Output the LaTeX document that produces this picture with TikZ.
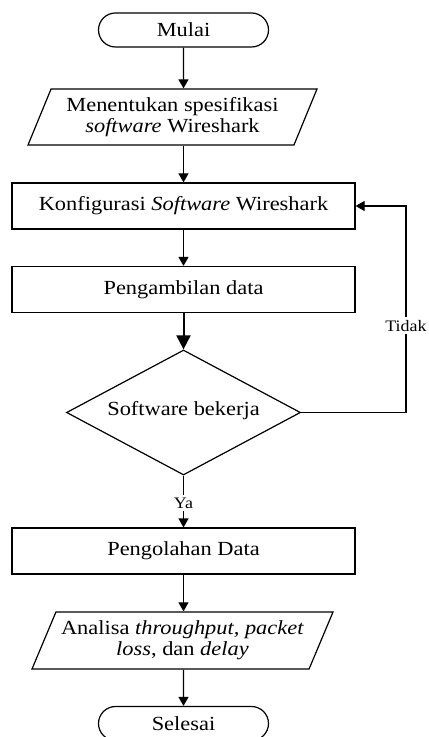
\documentclass[tikz,border=0pt]{standalone}
\usepackage{fontspec}
\setmainfont{Liberation Serif}[FakeStretch=1.12]
\usepackage{tikz}
\usetikzlibrary{shapes.geometric}
\usetikzlibrary{shapes.misc}
\usetikzlibrary{arrows.meta}

\tikzset{
  startstop/.style = {draw, rounded rectangle, minimum width=87pt, minimum height=17pt, inner sep=1pt},
  proses/.style = {draw, rectangle, minimum width=171.5pt, minimum height=23pt},
  io/.style = {draw, trapezium, trapezium left angle=#1, trapezium right angle=180-#1,
    trapezium stretches body, minimum height=28pt, align=center, inner sep=1pt},
  keputusan/.style = {draw, diamond, aspect=1.87, minimum width=117pt, minimum height=62.5pt, inner sep=1pt},
  arr/.style = {-{Triangle[width=5pt,length=4.5pt]}},
  lbl/.style = {font=\fontsize{8}{9}\selectfont, fill=white, inner sep=1.5pt},
}

\begin{document}
\begin{tikzpicture}[x=0.5pt, y=-0.5pt, line width=0.6pt, font=\fontsize{10}{10.5}\selectfont]
          \useasboundingbox (0,0) rectangle (428,737);

          \node[startstop] (mulai) at (183.5, 30) {Mulai};
          \node[io=62, minimum width=144.5pt] (spek) at (172.5, 117)
            {Menentukan spesifikasi\\\textit{software} Wireshark};
          \node[proses] (konf) at (183.5, 206) {Konfigurasi \textit{Software} Wireshark};
          \node[proses] (ambil) at (183.5, 289.5) {Pengambilan data};
          \node[keputusan] (cek) at (183.5, 412.5) {\raisebox{4pt}{Software bekerja}};
          \node[proses] (olah) at (183.5, 551) {Pengolahan Data};
          \node[io=61, minimum width=150.5pt, minimum height=28.5pt] (analisa) at (182.5, 640.5)
            {Analisa \textit{throughput, packet}\\\textit{loss}, dan \textit{delay}};
          \node[startstop] (selesai) at (183.5, 723.5) {Selesai};

          \coordinate (balik) at (406, 412.5);

          \draw[arr] (mulai) -- (mulai |- spek.north);
          \draw[arr] (spek.south -| konf) -- (konf);
          \draw[arr] (konf) -- (ambil);
          \draw[line width=1pt, -{Triangle[width=7pt,length=7pt]}] (ambil) -- (cek);
          \draw[arr] (cek.east) -- (balik) |- node[lbl, pos=0.21]{Tidak} (konf.east);
          \draw[arr] (cek.south) -- node[lbl, pos=0.53]{Ya} (olah);
          \draw[arr] (olah) -- (olah |- analisa.north);
          \draw[arr] (analisa.south -| selesai) -- (selesai);

        \end{tikzpicture}
\end{document}
